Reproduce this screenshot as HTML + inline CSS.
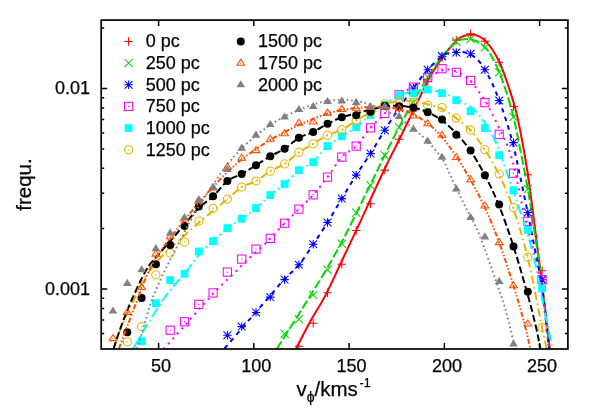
<!DOCTYPE html>
<html><head><meta charset="utf-8"><title>chart</title><style>html,body{margin:0;padding:0;background:#fff}body{width:598px;height:419px;overflow:hidden;font-family:"Liberation Sans",sans-serif}.t,.t text,.t tspan{font-family:"Liberation Sans",sans-serif}</style></head><body>
<svg width="598" height="419" viewBox="0 0 598 419" style="display:block">
<rect width="598" height="419" fill="#fff"/>
<defs><clipPath id="cp"><rect x="101.2" y="20.1" width="466.7" height="328.9"/></clipPath></defs>
<g clip-path="url(#cp)">
<path d="M295.9 349.0C298.2 344.5 305.0 331.1 310.0 322.0C315.0 312.9 320.8 304.4 326.1 294.1C331.4 283.9 336.5 272.2 342.0 260.5C347.5 248.8 354.0 235.2 359.2 224.1C364.4 213.0 368.4 204.0 373.0 194.0C377.6 184.0 382.6 173.1 387.0 164.0C391.4 154.9 394.9 148.4 399.3 139.5C403.7 130.6 408.6 120.4 413.4 110.5C418.2 100.6 424.3 87.5 428.2 80.0C432.1 72.5 434.2 69.9 437.0 65.5C439.8 61.1 442.0 57.7 445.2 53.6C448.4 49.5 453.4 43.7 456.4 40.8C459.4 37.9 460.5 37.2 463.0 36.2C465.5 35.2 468.8 34.6 471.5 34.6C474.2 34.6 476.7 35.2 479.0 36.3C481.3 37.4 483.3 38.9 485.5 41.0C487.7 43.1 489.7 45.5 492.0 49.0C494.3 52.5 496.9 56.5 499.4 62.0C501.9 67.5 504.3 74.0 507.0 82.0C509.7 90.0 513.2 100.3 515.7 110.0C518.2 119.7 520.0 129.3 522.0 140.0C524.0 150.7 526.1 163.2 527.8 174.0C529.5 184.8 530.3 192.0 532.0 205.0C533.7 218.0 535.8 234.5 538.0 252.0C540.2 269.5 543.3 293.9 545.3 310.0C547.3 326.1 549.0 342.1 549.8 348.5" fill="none" stroke="#ff0000" stroke-width="2.0"/>
<path d="M294.7 346.3H303.1M298.9 342.1V350.5" stroke="#ff0000" stroke-width="1.05" fill="none"/>
<path d="M309.0 323.2H317.4M313.2 319.0V327.4" stroke="#ff0000" stroke-width="1.05" fill="none"/>
<path d="M323.3 292.7H331.7M327.5 288.5V296.9" stroke="#ff0000" stroke-width="1.05" fill="none"/>
<path d="M337.6 264.2H346.0M341.8 260.0V268.4" stroke="#ff0000" stroke-width="1.05" fill="none"/>
<path d="M352.0 230.5H360.4M356.2 226.3V234.7" stroke="#ff0000" stroke-width="1.05" fill="none"/>
<path d="M366.3 203.8H374.7M370.5 199.6V208.0" stroke="#ff0000" stroke-width="1.05" fill="none"/>
<path d="M380.6 170.1H389.0M384.8 165.9V174.3" stroke="#ff0000" stroke-width="1.05" fill="none"/>
<path d="M394.9 139.2H403.3M399.1 135.0V143.4" stroke="#ff0000" stroke-width="1.05" fill="none"/>
<path d="M409.2 111.0H417.6M413.4 106.8V115.2" stroke="#ff0000" stroke-width="1.05" fill="none"/>
<path d="M423.5 81.5H431.9M427.7 77.3V85.7" stroke="#ff0000" stroke-width="1.05" fill="none"/>
<path d="M437.8 57.0H446.2M442.0 52.8V61.2" stroke="#ff0000" stroke-width="1.05" fill="none"/>
<path d="M452.1 40.1H460.5M456.3 35.9V44.3" stroke="#ff0000" stroke-width="1.05" fill="none"/>
<path d="M466.4 33.8H474.8M470.6 29.6V38.0" stroke="#ff0000" stroke-width="1.05" fill="none"/>
<path d="M480.7 41.3H489.1M484.9 37.1V45.5" stroke="#ff0000" stroke-width="1.05" fill="none"/>
<path d="M495.0 62.2H503.4M499.2 58.0V66.4" stroke="#ff0000" stroke-width="1.05" fill="none"/>
<path d="M509.3 106.5H517.7M513.5 102.3V110.7" stroke="#ff0000" stroke-width="1.05" fill="none"/>
<path d="M523.6 174.7H532.0M527.8 170.5V178.9" stroke="#ff0000" stroke-width="1.05" fill="none"/>
<path d="M537.9 270.7H546.3M542.1 266.5V274.9" stroke="#ff0000" stroke-width="1.05" fill="none"/>
<path d="M276.7 349.0C280.4 343.2 292.8 323.7 298.9 314.0C305.0 304.3 308.4 298.8 313.2 291.0C318.0 283.2 322.7 275.7 327.5 267.5C332.3 259.3 337.0 251.0 341.8 242.0C346.6 233.0 351.4 223.1 356.2 213.5C361.0 203.9 365.7 194.2 370.5 184.5C375.3 174.8 380.0 164.8 384.8 155.2C389.6 145.6 394.3 136.2 399.1 127.2C403.9 118.2 408.6 109.8 413.4 101.5C418.2 93.2 422.9 85.0 427.7 77.5C432.5 70.0 437.2 62.4 442.0 56.5C446.8 50.6 453.0 45.1 456.3 42.3C459.6 39.5 460.1 40.1 462.0 39.6C463.9 39.1 465.7 38.8 468.0 39.0C470.3 39.2 473.2 39.6 476.0 41.0C478.8 42.4 482.2 44.6 484.9 47.3C487.6 50.0 489.6 52.9 492.0 57.0C494.4 61.1 496.9 66.5 499.2 72.2C501.5 77.9 503.6 83.5 506.0 91.0C508.4 98.5 511.2 107.5 513.5 117.0C515.8 126.5 517.6 136.0 520.0 148.0C522.4 160.0 525.3 174.5 527.8 189.0C530.3 203.5 532.6 219.0 535.0 235.0C537.4 251.0 539.7 266.1 542.1 285.0C544.5 303.9 548.1 337.9 549.3 348.5" fill="none" stroke="#00d800" stroke-width="2.0" stroke-dasharray="9 3"/>
<path d="M280.5 329.7L288.7 337.9M280.5 337.9L288.7 329.7" stroke="#00d800" stroke-width="1.05" fill="none"/>
<path d="M294.8 315.1L303.0 323.3M294.8 323.3L303.0 315.1" stroke="#00d800" stroke-width="1.05" fill="none"/>
<path d="M309.1 290.8L317.3 299.0M309.1 299.0L317.3 290.8" stroke="#00d800" stroke-width="1.05" fill="none"/>
<path d="M323.4 265.7L331.6 273.9M323.4 273.9L331.6 265.7" stroke="#00d800" stroke-width="1.05" fill="none"/>
<path d="M337.7 239.6L345.9 247.8M337.7 247.8L345.9 239.6" stroke="#00d800" stroke-width="1.05" fill="none"/>
<path d="M352.1 208.7L360.3 216.9M352.1 216.9L360.3 208.7" stroke="#00d800" stroke-width="1.05" fill="none"/>
<path d="M366.4 181.1L374.6 189.3M366.4 189.3L374.6 181.1" stroke="#00d800" stroke-width="1.05" fill="none"/>
<path d="M380.7 151.1L388.9 159.3M380.7 159.3L388.9 151.1" stroke="#00d800" stroke-width="1.05" fill="none"/>
<path d="M395.0 123.1L403.2 131.3M395.0 131.3L403.2 123.1" stroke="#00d800" stroke-width="1.05" fill="none"/>
<path d="M409.3 98.0L417.5 106.2M409.3 106.2L417.5 98.0" stroke="#00d800" stroke-width="1.05" fill="none"/>
<path d="M423.6 72.8L431.8 81.0M423.6 81.0L431.8 72.8" stroke="#00d800" stroke-width="1.05" fill="none"/>
<path d="M437.9 51.9L446.1 60.1M437.9 60.1L446.1 51.9" stroke="#00d800" stroke-width="1.05" fill="none"/>
<path d="M452.2 37.7L460.4 45.9M452.2 45.9L460.4 37.7" stroke="#00d800" stroke-width="1.05" fill="none"/>
<path d="M466.5 34.9L474.7 43.1M466.5 43.1L474.7 34.9" stroke="#00d800" stroke-width="1.05" fill="none"/>
<path d="M480.8 43.2L489.0 51.4M480.8 51.4L489.0 43.2" stroke="#00d800" stroke-width="1.05" fill="none"/>
<path d="M495.1 68.1L503.3 76.3M495.1 76.3L503.3 68.1" stroke="#00d800" stroke-width="1.05" fill="none"/>
<path d="M509.4 112.9L517.6 121.1M509.4 121.1L517.6 112.9" stroke="#00d800" stroke-width="1.05" fill="none"/>
<path d="M523.7 184.9L531.9 193.1M523.7 193.1L531.9 184.9" stroke="#00d800" stroke-width="1.05" fill="none"/>
<path d="M538.0 275.6L546.2 283.8M538.0 283.8L546.2 275.6" stroke="#00d800" stroke-width="1.05" fill="none"/>
<path d="M224.5 348.5C227.4 345.2 236.4 334.7 241.7 328.6C246.9 322.5 251.2 317.5 256.0 312.0C260.8 306.5 265.5 301.0 270.3 295.5C275.1 290.0 279.8 284.1 284.6 279.0C289.4 273.9 294.2 270.6 298.9 264.8C303.7 259.0 308.5 251.4 313.2 244.3C318.0 237.2 322.8 230.1 327.5 222.5C332.3 214.9 337.1 206.5 341.8 198.6C346.6 190.7 351.4 182.6 356.2 175.1C360.9 167.6 365.7 161.1 370.5 153.6C375.2 146.1 380.0 137.8 384.8 130.2C389.5 122.6 394.3 115.1 399.1 108.1C403.8 101.1 408.6 94.4 413.4 88.0C418.1 81.6 422.9 75.1 427.7 69.8C432.4 64.5 438.4 59.1 442.0 56.3C445.5 53.5 446.6 53.9 449.0 53.2C451.4 52.5 453.8 52.1 456.3 52.0C458.8 51.9 461.6 51.9 464.0 52.3C466.4 52.7 468.3 53.2 470.6 54.5C472.9 55.8 475.6 57.5 478.0 60.0C480.4 62.5 482.6 66.0 484.9 69.8C487.2 73.6 489.6 77.9 492.0 83.0C494.4 88.1 496.9 94.3 499.2 100.5C501.5 106.7 503.6 112.4 506.0 120.0C508.4 127.6 511.2 136.7 513.5 146.0C515.8 155.3 517.6 164.8 520.0 176.0C522.4 187.2 525.3 200.7 527.8 213.0C530.3 225.3 532.6 237.5 535.0 250.0C537.4 262.5 539.8 271.6 542.1 288.0C544.4 304.4 547.9 338.4 549.0 348.5" fill="none" stroke="#0000ff" stroke-width="2.0" stroke-dasharray="4.5 4.5"/>
<path d="M223.2 335.2H231.6M227.4 331.0V339.4M223.5 331.3L231.3 339.1M223.5 339.1L231.3 331.3" stroke="#0000ff" stroke-width="1.05" fill="none"/>
<path d="M237.5 326.6H245.9M241.7 322.4V330.8M237.8 322.7L245.6 330.5M237.8 330.5L245.6 322.7" stroke="#0000ff" stroke-width="1.05" fill="none"/>
<path d="M251.8 312.4H260.2M256.0 308.2V316.6M252.1 308.5L259.9 316.3M252.1 316.3L259.9 308.5" stroke="#0000ff" stroke-width="1.05" fill="none"/>
<path d="M266.1 297.1H274.5M270.3 292.9V301.3M266.4 293.2L274.2 301.0M266.4 301.0L274.2 293.2" stroke="#0000ff" stroke-width="1.05" fill="none"/>
<path d="M280.4 279.6H288.8M284.6 275.4V283.8M280.7 275.7L288.5 283.5M280.7 283.5L288.5 275.7" stroke="#0000ff" stroke-width="1.05" fill="none"/>
<path d="M294.7 264.8H303.1M298.9 260.6V269.0M295.0 260.9L302.8 268.7M295.0 268.7L302.8 260.9" stroke="#0000ff" stroke-width="1.05" fill="none"/>
<path d="M309.0 244.3H317.4M313.2 240.1V248.5M309.3 240.4L317.1 248.2M309.3 248.2L317.1 240.4" stroke="#0000ff" stroke-width="1.05" fill="none"/>
<path d="M323.3 222.5H331.7M327.5 218.3V226.7M323.6 218.6L331.4 226.4M323.6 226.4L331.4 218.6" stroke="#0000ff" stroke-width="1.05" fill="none"/>
<path d="M337.6 198.6H346.0M341.8 194.4V202.8M337.9 194.7L345.7 202.5M337.9 202.5L345.7 194.7" stroke="#0000ff" stroke-width="1.05" fill="none"/>
<path d="M352.0 175.1H360.4M356.2 170.9V179.3M352.3 171.2L360.1 179.0M352.3 179.0L360.1 171.2" stroke="#0000ff" stroke-width="1.05" fill="none"/>
<path d="M366.3 153.6H374.7M370.5 149.4V157.8M366.6 149.7L374.4 157.5M366.6 157.5L374.4 149.7" stroke="#0000ff" stroke-width="1.05" fill="none"/>
<path d="M380.6 130.2H389.0M384.8 126.0V134.4M380.9 126.3L388.7 134.1M380.9 134.1L388.7 126.3" stroke="#0000ff" stroke-width="1.05" fill="none"/>
<path d="M394.9 108.1H403.3M399.1 103.9V112.3M395.2 104.2L403.0 112.0M395.2 112.0L403.0 104.2" stroke="#0000ff" stroke-width="1.05" fill="none"/>
<path d="M409.2 88.0H417.6M413.4 83.8V92.2M409.5 84.1L417.3 91.9M409.5 91.9L417.3 84.1" stroke="#0000ff" stroke-width="1.05" fill="none"/>
<path d="M423.5 69.8H431.9M427.7 65.6V74.0M423.8 65.9L431.6 73.7M423.8 73.7L431.6 65.9" stroke="#0000ff" stroke-width="1.05" fill="none"/>
<path d="M437.8 56.3H446.2M442.0 52.1V60.5M438.1 52.4L445.9 60.2M438.1 60.2L445.9 52.4" stroke="#0000ff" stroke-width="1.05" fill="none"/>
<path d="M452.1 52.5H460.5M456.3 48.3V56.7M452.4 48.6L460.2 56.4M452.4 56.4L460.2 48.6" stroke="#0000ff" stroke-width="1.05" fill="none"/>
<path d="M466.4 53.7H474.8M470.6 49.5V57.9M466.7 49.8L474.5 57.6M466.7 57.6L474.5 49.8" stroke="#0000ff" stroke-width="1.05" fill="none"/>
<path d="M480.7 69.8H489.1M484.9 65.6V74.0M481.0 65.9L488.8 73.7M481.0 73.7L488.8 65.9" stroke="#0000ff" stroke-width="1.05" fill="none"/>
<path d="M495.0 100.5H503.4M499.2 96.3V104.7M495.3 96.6L503.1 104.4M495.3 104.4L503.1 96.6" stroke="#0000ff" stroke-width="1.05" fill="none"/>
<path d="M509.3 142.6H517.7M513.5 138.4V146.8M509.6 138.7L517.4 146.5M509.6 146.5L517.4 138.7" stroke="#0000ff" stroke-width="1.05" fill="none"/>
<path d="M523.6 212.4H532.0M527.8 208.2V216.6M523.9 208.5L531.7 216.3M523.9 216.3L531.7 208.5" stroke="#0000ff" stroke-width="1.05" fill="none"/>
<path d="M537.9 279.7H546.3M542.1 275.5V283.9M538.2 275.8L546.0 283.6M538.2 283.6L546.0 275.8" stroke="#0000ff" stroke-width="1.05" fill="none"/>
<path d="M163.8 349.0C167.2 345.1 177.8 333.3 184.5 325.8C191.2 318.3 198.1 310.3 204.0 303.8C209.9 297.3 215.1 291.7 220.1 286.6C225.1 281.5 229.4 277.7 234.1 273.1C238.8 268.5 243.5 263.5 248.2 259.1C252.8 254.7 258.3 249.9 262.0 246.5C265.7 243.1 266.6 242.3 270.3 238.4C274.1 234.5 279.9 228.1 284.6 223.2C289.4 218.3 294.2 213.8 298.9 209.1C303.7 204.4 308.5 200.1 313.2 194.8C318.0 189.5 322.8 183.4 327.5 177.1C332.3 170.8 337.1 162.3 341.8 157.1C346.6 151.9 351.4 151.0 356.2 146.1C360.9 141.2 365.7 133.2 370.5 127.8C375.2 122.3 380.0 118.9 384.8 113.4C389.5 107.9 394.3 99.2 399.1 94.8C403.8 90.4 408.6 90.0 413.4 87.2C418.1 84.4 422.9 80.5 427.7 77.7C432.4 74.9 438.4 71.9 442.0 70.5C445.6 69.1 446.6 69.3 449.0 69.5C451.4 69.7 454.0 70.6 456.3 71.5C458.6 72.4 460.6 73.4 463.0 75.0C465.4 76.6 468.1 78.4 470.6 81.0C473.1 83.6 475.5 87.1 478.0 90.5C480.5 93.9 483.2 97.7 485.5 101.5C487.8 105.3 489.5 108.6 492.0 113.5C494.5 118.4 497.8 125.3 500.5 131.0C503.2 136.7 505.8 140.9 508.2 147.6C510.6 154.3 512.5 160.6 515.0 171.0C517.5 181.4 520.7 199.3 523.2 210.3C525.7 221.3 527.9 228.4 530.0 237.0C532.1 245.6 533.9 252.3 536.0 262.0C538.1 271.7 540.4 280.5 542.5 295.0C544.6 309.5 547.8 340.0 548.8 349.0" fill="none" stroke="#ff00ff" stroke-width="2.0" stroke-dasharray="2 4.6"/>
<rect x="166.1" y="326.1" width="8.2" height="8.2" stroke="#ff00ff" stroke-width="1.05" fill="none"/><circle cx="170.2" cy="330.2" r="0.7" fill="#ff00ff"/>
<rect x="180.4" y="317.7" width="8.2" height="8.2" stroke="#ff00ff" stroke-width="1.05" fill="none"/><circle cx="184.5" cy="321.8" r="0.7" fill="#ff00ff"/>
<rect x="194.7" y="300.3" width="8.2" height="8.2" stroke="#ff00ff" stroke-width="1.05" fill="none"/><circle cx="198.8" cy="304.4" r="0.7" fill="#ff00ff"/>
<rect x="209.0" y="288.8" width="8.2" height="8.2" stroke="#ff00ff" stroke-width="1.05" fill="none"/><circle cx="213.1" cy="292.9" r="0.7" fill="#ff00ff"/>
<rect x="223.3" y="268.0" width="8.2" height="8.2" stroke="#ff00ff" stroke-width="1.05" fill="none"/><circle cx="227.4" cy="272.1" r="0.7" fill="#ff00ff"/>
<rect x="237.6" y="255.0" width="8.2" height="8.2" stroke="#ff00ff" stroke-width="1.05" fill="none"/><circle cx="241.7" cy="259.1" r="0.7" fill="#ff00ff"/>
<rect x="251.9" y="245.0" width="8.2" height="8.2" stroke="#ff00ff" stroke-width="1.05" fill="none"/><circle cx="256.0" cy="249.1" r="0.7" fill="#ff00ff"/>
<rect x="266.2" y="234.3" width="8.2" height="8.2" stroke="#ff00ff" stroke-width="1.05" fill="none"/><circle cx="270.3" cy="238.4" r="0.7" fill="#ff00ff"/>
<rect x="280.5" y="219.1" width="8.2" height="8.2" stroke="#ff00ff" stroke-width="1.05" fill="none"/><circle cx="284.6" cy="223.2" r="0.7" fill="#ff00ff"/>
<rect x="294.8" y="205.0" width="8.2" height="8.2" stroke="#ff00ff" stroke-width="1.05" fill="none"/><circle cx="298.9" cy="209.1" r="0.7" fill="#ff00ff"/>
<rect x="309.1" y="190.7" width="8.2" height="8.2" stroke="#ff00ff" stroke-width="1.05" fill="none"/><circle cx="313.2" cy="194.8" r="0.7" fill="#ff00ff"/>
<rect x="323.4" y="173.0" width="8.2" height="8.2" stroke="#ff00ff" stroke-width="1.05" fill="none"/><circle cx="327.5" cy="177.1" r="0.7" fill="#ff00ff"/>
<rect x="337.7" y="153.0" width="8.2" height="8.2" stroke="#ff00ff" stroke-width="1.05" fill="none"/><circle cx="341.8" cy="157.1" r="0.7" fill="#ff00ff"/>
<rect x="352.1" y="142.0" width="8.2" height="8.2" stroke="#ff00ff" stroke-width="1.05" fill="none"/><circle cx="356.2" cy="146.1" r="0.7" fill="#ff00ff"/>
<rect x="366.4" y="123.7" width="8.2" height="8.2" stroke="#ff00ff" stroke-width="1.05" fill="none"/><circle cx="370.5" cy="127.8" r="0.7" fill="#ff00ff"/>
<rect x="380.7" y="109.3" width="8.2" height="8.2" stroke="#ff00ff" stroke-width="1.05" fill="none"/><circle cx="384.8" cy="113.4" r="0.7" fill="#ff00ff"/>
<rect x="395.0" y="90.7" width="8.2" height="8.2" stroke="#ff00ff" stroke-width="1.05" fill="none"/><circle cx="399.1" cy="94.8" r="0.7" fill="#ff00ff"/>
<rect x="409.3" y="83.1" width="8.2" height="8.2" stroke="#ff00ff" stroke-width="1.05" fill="none"/><circle cx="413.4" cy="87.2" r="0.7" fill="#ff00ff"/>
<rect x="423.6" y="73.6" width="8.2" height="8.2" stroke="#ff00ff" stroke-width="1.05" fill="none"/><circle cx="427.7" cy="77.7" r="0.7" fill="#ff00ff"/>
<rect x="437.9" y="64.6" width="8.2" height="8.2" stroke="#ff00ff" stroke-width="1.05" fill="none"/><circle cx="442.0" cy="68.7" r="0.7" fill="#ff00ff"/>
<rect x="452.2" y="68.2" width="8.2" height="8.2" stroke="#ff00ff" stroke-width="1.05" fill="none"/><circle cx="456.3" cy="72.3" r="0.7" fill="#ff00ff"/>
<rect x="466.5" y="76.4" width="8.2" height="8.2" stroke="#ff00ff" stroke-width="1.05" fill="none"/><circle cx="470.6" cy="80.5" r="0.7" fill="#ff00ff"/>
<rect x="480.8" y="98.5" width="8.2" height="8.2" stroke="#ff00ff" stroke-width="1.05" fill="none"/><circle cx="484.9" cy="102.6" r="0.7" fill="#ff00ff"/>
<rect x="495.1" y="130.2" width="8.2" height="8.2" stroke="#ff00ff" stroke-width="1.05" fill="none"/><circle cx="499.2" cy="134.3" r="0.7" fill="#ff00ff"/>
<rect x="509.4" y="169.1" width="8.2" height="8.2" stroke="#ff00ff" stroke-width="1.05" fill="none"/><circle cx="513.5" cy="173.2" r="0.7" fill="#ff00ff"/>
<rect x="523.7" y="217.2" width="8.2" height="8.2" stroke="#ff00ff" stroke-width="1.05" fill="none"/><circle cx="527.8" cy="221.3" r="0.7" fill="#ff00ff"/>
<rect x="538.0" y="275.6" width="8.2" height="8.2" stroke="#ff00ff" stroke-width="1.05" fill="none"/><circle cx="542.1" cy="279.7" r="0.7" fill="#ff00ff"/>
<path d="M133.1 349.0C134.5 346.5 137.8 340.3 141.6 334.0C145.4 327.7 151.8 317.4 155.9 311.0C160.0 304.6 163.0 299.7 166.2 295.3C169.4 290.9 172.0 288.0 175.0 284.5C178.0 281.0 180.8 278.6 184.3 274.2C187.9 269.8 192.7 262.6 196.3 258.1C199.9 253.7 203.2 250.3 206.0 247.5C208.8 244.7 209.6 244.3 213.1 241.1C216.7 237.9 222.7 231.9 227.4 228.2C232.2 224.5 237.0 222.2 241.7 218.8C246.5 215.5 251.3 212.1 256.0 208.1C260.8 204.1 265.6 199.1 270.3 195.1C275.1 191.1 279.9 188.2 284.6 184.0C289.4 179.8 294.2 173.8 298.9 170.2C303.7 166.5 308.5 166.1 313.2 162.1C318.0 158.1 322.8 150.3 327.5 146.0C332.3 141.7 337.1 139.3 341.8 136.2C346.6 133.1 351.4 130.7 356.2 127.2C360.9 123.7 365.7 118.9 370.5 115.2C375.2 111.5 380.0 108.3 384.8 105.0C389.5 101.7 394.3 97.6 399.1 95.4C403.8 93.2 408.6 92.4 413.4 91.6C418.2 90.8 422.9 90.3 427.7 90.5C432.5 90.7 437.0 91.0 442.0 92.5C447.0 94.0 452.1 96.6 457.5 99.5C462.9 102.4 469.4 105.6 474.3 110.0C479.2 114.4 483.0 119.7 487.0 126.0C491.0 132.3 494.5 138.6 498.2 147.6C501.9 156.6 505.6 169.3 509.4 180.2C513.1 191.1 516.7 200.5 520.7 213.0C524.7 225.5 529.4 239.0 533.3 255.2C537.2 271.4 541.3 295.5 544.3 310.0C547.3 324.5 549.9 335.5 551.3 342.0C552.7 348.5 552.4 347.8 552.6 349.0" fill="none" stroke="#00ffff" stroke-width="2.0" stroke-dasharray="10 3.5 1.6 3.5"/>
<rect x="137.7" y="337.3" width="7.8" height="7.8" fill="#00ffff"/>
<rect x="152.0" y="299.2" width="7.8" height="7.8" fill="#00ffff"/>
<rect x="166.3" y="276.2" width="7.8" height="7.8" fill="#00ffff"/>
<rect x="180.6" y="269.9" width="7.8" height="7.8" fill="#00ffff"/>
<rect x="194.9" y="247.6" width="7.8" height="7.8" fill="#00ffff"/>
<rect x="209.2" y="237.2" width="7.8" height="7.8" fill="#00ffff"/>
<rect x="223.5" y="224.3" width="7.8" height="7.8" fill="#00ffff"/>
<rect x="237.8" y="214.9" width="7.8" height="7.8" fill="#00ffff"/>
<rect x="252.1" y="204.2" width="7.8" height="7.8" fill="#00ffff"/>
<rect x="266.4" y="191.2" width="7.8" height="7.8" fill="#00ffff"/>
<rect x="280.7" y="180.1" width="7.8" height="7.8" fill="#00ffff"/>
<rect x="295.0" y="166.3" width="7.8" height="7.8" fill="#00ffff"/>
<rect x="309.3" y="158.2" width="7.8" height="7.8" fill="#00ffff"/>
<rect x="323.6" y="142.1" width="7.8" height="7.8" fill="#00ffff"/>
<rect x="337.9" y="132.3" width="7.8" height="7.8" fill="#00ffff"/>
<rect x="352.3" y="123.3" width="7.8" height="7.8" fill="#00ffff"/>
<rect x="366.6" y="111.3" width="7.8" height="7.8" fill="#00ffff"/>
<rect x="380.9" y="101.1" width="7.8" height="7.8" fill="#00ffff"/>
<rect x="395.2" y="91.5" width="7.8" height="7.8" fill="#00ffff"/>
<rect x="409.5" y="89.5" width="7.8" height="7.8" fill="#00ffff"/>
<rect x="423.8" y="85.7" width="7.8" height="7.8" fill="#00ffff"/>
<rect x="438.1" y="89.2" width="7.8" height="7.8" fill="#00ffff"/>
<rect x="452.4" y="96.3" width="7.8" height="7.8" fill="#00ffff"/>
<rect x="466.7" y="107.3" width="7.8" height="7.8" fill="#00ffff"/>
<rect x="481.0" y="124.2" width="7.8" height="7.8" fill="#00ffff"/>
<rect x="495.3" y="151.3" width="7.8" height="7.8" fill="#00ffff"/>
<rect x="509.6" y="186.4" width="7.8" height="7.8" fill="#00ffff"/>
<rect x="523.9" y="226.1" width="7.8" height="7.8" fill="#00ffff"/>
<rect x="538.2" y="284.6" width="7.8" height="7.8" fill="#00ffff"/>
<path d="M113.8 349.0C114.4 347.0 116.2 340.8 117.5 337.0C118.8 333.2 119.9 330.4 121.6 326.4C123.3 322.4 125.5 317.3 127.5 313.0C129.5 308.7 130.9 306.1 133.6 300.6C136.3 295.1 140.4 285.9 143.6 280.2C146.8 274.5 149.6 270.9 153.0 266.5C156.4 262.1 159.8 258.5 164.2 254.1C168.6 249.7 173.8 245.0 179.3 240.0C184.8 235.0 192.5 228.2 197.3 224.0C202.1 219.8 203.0 219.2 208.0 215.0C213.0 210.8 221.8 203.8 227.4 199.1C233.0 194.4 237.0 190.1 241.7 187.1C246.5 184.1 251.3 183.7 256.0 181.0C260.8 178.3 265.6 174.0 270.3 171.2C275.1 168.3 279.9 167.1 284.6 163.9C289.4 160.8 294.2 155.7 298.9 152.3C303.7 149.0 308.5 146.7 313.2 143.8C318.0 141.0 322.8 137.5 327.5 135.2C332.3 132.9 337.1 132.2 341.8 129.8C346.6 127.4 351.4 123.5 356.2 120.6C360.9 117.6 365.7 114.8 370.5 112.1C375.2 109.4 380.0 106.3 384.8 104.5C389.6 102.7 394.3 101.5 399.1 101.0C403.9 100.5 408.6 101.0 413.4 101.5C418.2 102.0 422.9 103.0 427.7 104.2C432.5 105.5 437.2 106.7 442.0 109.0C446.8 111.3 451.5 114.5 456.3 118.1C461.1 121.7 465.8 125.2 470.6 130.5C475.4 135.8 480.1 142.3 484.9 149.7C489.7 157.1 494.4 165.1 499.2 175.0C504.0 184.9 508.7 195.2 513.5 209.0C518.3 222.8 523.0 238.2 527.8 258.0C532.6 277.8 539.0 312.6 542.1 327.7C545.2 342.8 545.8 345.0 546.5 348.5" fill="none" stroke="#e6b400" stroke-width="2.0" stroke-dasharray="8 3.5 1.6 3.5"/>
<circle cx="127.3" cy="341.8" r="4.1" stroke="#e6b400" stroke-width="1.05" fill="none"/><circle cx="127.3" cy="341.8" r="0.7" fill="#e6b400"/>
<circle cx="141.6" cy="326.6" r="4.1" stroke="#e6b400" stroke-width="1.05" fill="none"/><circle cx="141.6" cy="326.6" r="0.7" fill="#e6b400"/>
<circle cx="155.9" cy="274.9" r="4.1" stroke="#e6b400" stroke-width="1.05" fill="none"/><circle cx="155.9" cy="274.9" r="0.7" fill="#e6b400"/>
<circle cx="170.2" cy="253.1" r="4.1" stroke="#e6b400" stroke-width="1.05" fill="none"/><circle cx="170.2" cy="253.1" r="0.7" fill="#e6b400"/>
<circle cx="184.5" cy="242.1" r="4.1" stroke="#e6b400" stroke-width="1.05" fill="none"/><circle cx="184.5" cy="242.1" r="0.7" fill="#e6b400"/>
<circle cx="198.8" cy="221.1" r="4.1" stroke="#e6b400" stroke-width="1.05" fill="none"/><circle cx="198.8" cy="221.1" r="0.7" fill="#e6b400"/>
<circle cx="213.1" cy="208.3" r="4.1" stroke="#e6b400" stroke-width="1.05" fill="none"/><circle cx="213.1" cy="208.3" r="0.7" fill="#e6b400"/>
<circle cx="227.4" cy="199.1" r="4.1" stroke="#e6b400" stroke-width="1.05" fill="none"/><circle cx="227.4" cy="199.1" r="0.7" fill="#e6b400"/>
<circle cx="241.7" cy="187.1" r="4.1" stroke="#e6b400" stroke-width="1.05" fill="none"/><circle cx="241.7" cy="187.1" r="0.7" fill="#e6b400"/>
<circle cx="256.0" cy="181.0" r="4.1" stroke="#e6b400" stroke-width="1.05" fill="none"/><circle cx="256.0" cy="181.0" r="0.7" fill="#e6b400"/>
<circle cx="270.3" cy="171.2" r="4.1" stroke="#e6b400" stroke-width="1.05" fill="none"/><circle cx="270.3" cy="171.2" r="0.7" fill="#e6b400"/>
<circle cx="284.6" cy="163.9" r="4.1" stroke="#e6b400" stroke-width="1.05" fill="none"/><circle cx="284.6" cy="163.9" r="0.7" fill="#e6b400"/>
<circle cx="298.9" cy="152.3" r="4.1" stroke="#e6b400" stroke-width="1.05" fill="none"/><circle cx="298.9" cy="152.3" r="0.7" fill="#e6b400"/>
<circle cx="313.2" cy="143.8" r="4.1" stroke="#e6b400" stroke-width="1.05" fill="none"/><circle cx="313.2" cy="143.8" r="0.7" fill="#e6b400"/>
<circle cx="327.5" cy="135.2" r="4.1" stroke="#e6b400" stroke-width="1.05" fill="none"/><circle cx="327.5" cy="135.2" r="0.7" fill="#e6b400"/>
<circle cx="341.8" cy="129.8" r="4.1" stroke="#e6b400" stroke-width="1.05" fill="none"/><circle cx="341.8" cy="129.8" r="0.7" fill="#e6b400"/>
<circle cx="356.2" cy="120.6" r="4.1" stroke="#e6b400" stroke-width="1.05" fill="none"/><circle cx="356.2" cy="120.6" r="0.7" fill="#e6b400"/>
<circle cx="370.5" cy="112.1" r="4.1" stroke="#e6b400" stroke-width="1.05" fill="none"/><circle cx="370.5" cy="112.1" r="0.7" fill="#e6b400"/>
<circle cx="384.8" cy="103.8" r="4.1" stroke="#e6b400" stroke-width="1.05" fill="none"/><circle cx="384.8" cy="103.8" r="0.7" fill="#e6b400"/>
<circle cx="399.1" cy="100.6" r="4.1" stroke="#e6b400" stroke-width="1.05" fill="none"/><circle cx="399.1" cy="100.6" r="0.7" fill="#e6b400"/>
<circle cx="413.4" cy="102.3" r="4.1" stroke="#e6b400" stroke-width="1.05" fill="none"/><circle cx="413.4" cy="102.3" r="0.7" fill="#e6b400"/>
<circle cx="427.7" cy="105.2" r="4.1" stroke="#e6b400" stroke-width="1.05" fill="none"/><circle cx="427.7" cy="105.2" r="0.7" fill="#e6b400"/>
<circle cx="442.0" cy="107.6" r="4.1" stroke="#e6b400" stroke-width="1.05" fill="none"/><circle cx="442.0" cy="107.6" r="0.7" fill="#e6b400"/>
<circle cx="456.3" cy="118.1" r="4.1" stroke="#e6b400" stroke-width="1.05" fill="none"/><circle cx="456.3" cy="118.1" r="0.7" fill="#e6b400"/>
<circle cx="470.6" cy="130.1" r="4.1" stroke="#e6b400" stroke-width="1.05" fill="none"/><circle cx="470.6" cy="130.1" r="0.7" fill="#e6b400"/>
<circle cx="484.9" cy="149.7" r="4.1" stroke="#e6b400" stroke-width="1.05" fill="none"/><circle cx="484.9" cy="149.7" r="0.7" fill="#e6b400"/>
<circle cx="499.2" cy="174.0" r="4.1" stroke="#e6b400" stroke-width="1.05" fill="none"/><circle cx="499.2" cy="174.0" r="0.7" fill="#e6b400"/>
<circle cx="513.5" cy="207.6" r="4.1" stroke="#e6b400" stroke-width="1.05" fill="none"/><circle cx="513.5" cy="207.6" r="0.7" fill="#e6b400"/>
<circle cx="527.8" cy="257.2" r="4.1" stroke="#e6b400" stroke-width="1.05" fill="none"/><circle cx="527.8" cy="257.2" r="0.7" fill="#e6b400"/>
<circle cx="542.1" cy="327.7" r="4.1" stroke="#e6b400" stroke-width="1.05" fill="none"/><circle cx="542.1" cy="327.7" r="0.7" fill="#e6b400"/>
<path d="M113.6 348.5C115.0 344.4 118.9 332.2 122.0 324.0C125.1 315.8 128.1 308.0 132.1 299.0C136.1 290.0 142.2 276.9 146.2 270.0C150.2 263.1 151.9 262.3 155.9 257.5C159.9 252.7 165.4 246.5 170.2 241.0C175.0 235.5 179.7 230.0 184.5 224.5C189.3 219.0 194.0 212.7 198.8 208.0C203.6 203.3 208.4 200.8 213.1 196.3C217.9 191.8 222.7 184.7 227.4 181.0C232.2 177.3 237.0 176.5 241.7 173.9C246.5 171.3 251.3 168.2 256.0 165.3C260.8 162.4 265.6 158.9 270.3 156.2C275.1 153.4 279.9 151.9 284.6 148.8C289.4 145.7 294.2 140.6 298.9 137.8C303.7 135.0 308.5 134.3 313.2 132.0C318.0 129.7 322.8 126.3 327.5 123.8C332.3 121.3 337.1 118.9 341.8 117.2C346.6 115.5 351.4 114.8 356.2 113.5C361.0 112.2 365.7 110.7 370.5 109.5C375.3 108.3 380.0 107.1 384.8 106.5C389.6 105.9 394.3 105.6 399.1 105.8C403.9 106.0 408.6 106.6 413.4 107.7C418.2 108.8 422.9 110.1 427.7 112.2C432.5 114.3 437.2 117.0 442.0 120.5C446.8 124.0 451.5 128.4 456.3 133.5C461.1 138.6 465.8 144.1 470.6 151.0C475.4 157.9 480.1 166.0 484.9 175.2C489.7 184.4 494.4 194.1 499.2 206.0C504.0 217.9 508.7 231.6 513.5 246.4C518.3 261.2 524.0 281.6 527.8 295.0C531.5 308.4 533.9 318.1 536.0 327.0C538.1 335.9 539.6 344.9 540.3 348.5" fill="none" stroke="#000000" stroke-width="2.0" stroke-dasharray="7 3"/>
<circle cx="127.3" cy="332.2" r="4.0" fill="#000000"/>
<circle cx="141.6" cy="297.9" r="4.0" fill="#000000"/>
<circle cx="155.9" cy="264.2" r="4.0" fill="#000000"/>
<circle cx="170.2" cy="245.1" r="4.0" fill="#000000"/>
<circle cx="184.5" cy="226.0" r="4.0" fill="#000000"/>
<circle cx="198.8" cy="206.6" r="4.0" fill="#000000"/>
<circle cx="213.1" cy="196.3" r="4.0" fill="#000000"/>
<circle cx="227.4" cy="181.0" r="4.0" fill="#000000"/>
<circle cx="241.7" cy="173.9" r="4.0" fill="#000000"/>
<circle cx="256.0" cy="165.3" r="4.0" fill="#000000"/>
<circle cx="270.3" cy="156.2" r="4.0" fill="#000000"/>
<circle cx="284.6" cy="148.8" r="4.0" fill="#000000"/>
<circle cx="298.9" cy="137.8" r="4.0" fill="#000000"/>
<circle cx="313.2" cy="132.0" r="4.0" fill="#000000"/>
<circle cx="327.5" cy="123.8" r="4.0" fill="#000000"/>
<circle cx="341.8" cy="117.2" r="4.0" fill="#000000"/>
<circle cx="356.2" cy="115.2" r="4.0" fill="#000000"/>
<circle cx="370.5" cy="111.7" r="4.0" fill="#000000"/>
<circle cx="384.8" cy="105.7" r="4.0" fill="#000000"/>
<circle cx="399.1" cy="106.3" r="4.0" fill="#000000"/>
<circle cx="413.4" cy="107.7" r="4.0" fill="#000000"/>
<circle cx="427.7" cy="112.2" r="4.0" fill="#000000"/>
<circle cx="442.0" cy="119.6" r="4.0" fill="#000000"/>
<circle cx="456.3" cy="134.8" r="4.0" fill="#000000"/>
<circle cx="470.6" cy="150.6" r="4.0" fill="#000000"/>
<circle cx="484.9" cy="175.2" r="4.0" fill="#000000"/>
<circle cx="499.2" cy="204.5" r="4.0" fill="#000000"/>
<circle cx="513.5" cy="246.4" r="4.0" fill="#000000"/>
<circle cx="527.8" cy="291.7" r="4.0" fill="#000000"/>
<path d="M119.0 348.5C120.3 344.9 123.8 335.4 127.0 327.0C130.2 318.6 134.3 307.5 138.0 298.0C141.7 288.5 145.5 277.7 149.2 270.0C152.9 262.3 156.5 257.3 160.0 252.0C163.5 246.7 166.1 243.3 170.2 238.0C174.3 232.7 179.7 225.8 184.5 220.0C189.3 214.2 194.0 208.5 198.8 203.0C203.6 197.5 208.3 192.2 213.1 187.0C217.9 181.8 222.6 176.6 227.4 172.0C232.2 167.4 236.9 163.3 241.7 159.5C246.5 155.7 251.2 152.2 256.0 149.0C260.8 145.8 265.5 142.8 270.3 140.0C275.1 137.2 279.8 134.5 284.6 132.0C289.4 129.5 294.1 127.2 298.9 125.0C303.7 122.8 308.4 120.9 313.2 119.0C318.0 117.1 322.7 115.0 327.5 113.5C332.3 112.0 337.0 110.9 341.8 110.0C346.6 109.1 351.4 108.5 356.2 108.0C361.0 107.5 365.7 107.1 370.5 107.0C375.3 106.9 380.0 106.9 384.8 107.3C389.6 107.7 394.3 108.0 399.1 109.2C403.9 110.4 408.6 112.1 413.4 114.5C418.2 116.9 422.9 119.8 427.7 123.5C432.5 127.2 437.2 131.5 442.0 137.0C446.8 142.5 451.5 149.3 456.3 156.5C461.1 163.7 465.8 171.5 470.6 180.0C475.4 188.5 480.1 197.1 484.9 207.5C489.7 217.9 494.4 229.6 499.2 242.6C504.0 255.6 509.4 272.5 513.5 285.7C517.6 298.9 521.2 311.5 524.0 322.0C526.8 332.5 529.2 344.1 530.3 348.5" fill="none" stroke="#ff4d00" stroke-width="2.0" stroke-dasharray="5 2 1.5 2 1.5 2"/>
<path d="M113.0 334.6L116.9 340.6H109.1Z" stroke="#ff4d00" stroke-width="1.05" fill="none"/><circle cx="113.0" cy="338.6" r="0.7" fill="#ff4d00"/>
<path d="M127.3 308.5L131.2 314.5H123.4Z" stroke="#ff4d00" stroke-width="1.05" fill="none"/><circle cx="127.3" cy="312.5" r="0.7" fill="#ff4d00"/>
<path d="M141.6 283.5L145.5 289.5H137.7Z" stroke="#ff4d00" stroke-width="1.05" fill="none"/><circle cx="141.6" cy="287.5" r="0.7" fill="#ff4d00"/>
<path d="M155.9 250.1L159.8 256.1H152.0Z" stroke="#ff4d00" stroke-width="1.05" fill="none"/><circle cx="155.9" cy="254.1" r="0.7" fill="#ff4d00"/>
<path d="M170.2 232.7L174.1 238.7H166.3Z" stroke="#ff4d00" stroke-width="1.05" fill="none"/><circle cx="170.2" cy="236.7" r="0.7" fill="#ff4d00"/>
<path d="M184.5 215.0L188.4 221.0H180.6Z" stroke="#ff4d00" stroke-width="1.05" fill="none"/><circle cx="184.5" cy="219.0" r="0.7" fill="#ff4d00"/>
<path d="M198.8 197.0L202.7 203.0H194.9Z" stroke="#ff4d00" stroke-width="1.05" fill="none"/><circle cx="198.8" cy="201.0" r="0.7" fill="#ff4d00"/>
<path d="M213.1 184.0L217.0 190.0H209.2Z" stroke="#ff4d00" stroke-width="1.05" fill="none"/><circle cx="213.1" cy="188.0" r="0.7" fill="#ff4d00"/>
<path d="M227.4 163.3L231.3 169.3H223.5Z" stroke="#ff4d00" stroke-width="1.05" fill="none"/><circle cx="227.4" cy="167.3" r="0.7" fill="#ff4d00"/>
<path d="M241.7 154.2L245.6 160.2H237.8Z" stroke="#ff4d00" stroke-width="1.05" fill="none"/><circle cx="241.7" cy="158.2" r="0.7" fill="#ff4d00"/>
<path d="M256.0 146.6L259.9 152.6H252.1Z" stroke="#ff4d00" stroke-width="1.05" fill="none"/><circle cx="256.0" cy="150.6" r="0.7" fill="#ff4d00"/>
<path d="M270.3 135.2L274.2 141.2H266.4Z" stroke="#ff4d00" stroke-width="1.05" fill="none"/><circle cx="270.3" cy="139.2" r="0.7" fill="#ff4d00"/>
<path d="M284.6 129.7L288.5 135.7H280.7Z" stroke="#ff4d00" stroke-width="1.05" fill="none"/><circle cx="284.6" cy="133.7" r="0.7" fill="#ff4d00"/>
<path d="M298.9 119.1L302.8 125.1H295.0Z" stroke="#ff4d00" stroke-width="1.05" fill="none"/><circle cx="298.9" cy="123.1" r="0.7" fill="#ff4d00"/>
<path d="M313.2 118.0L317.1 124.0H309.3Z" stroke="#ff4d00" stroke-width="1.05" fill="none"/><circle cx="313.2" cy="122.0" r="0.7" fill="#ff4d00"/>
<path d="M327.5 109.1L331.4 115.1H323.6Z" stroke="#ff4d00" stroke-width="1.05" fill="none"/><circle cx="327.5" cy="113.1" r="0.7" fill="#ff4d00"/>
<path d="M341.8 105.4L345.7 111.4H337.9Z" stroke="#ff4d00" stroke-width="1.05" fill="none"/><circle cx="341.8" cy="109.4" r="0.7" fill="#ff4d00"/>
<path d="M356.2 104.2L360.1 110.2H352.3Z" stroke="#ff4d00" stroke-width="1.05" fill="none"/><circle cx="356.2" cy="108.2" r="0.7" fill="#ff4d00"/>
<path d="M370.5 103.5L374.4 109.5H366.6Z" stroke="#ff4d00" stroke-width="1.05" fill="none"/><circle cx="370.5" cy="107.5" r="0.7" fill="#ff4d00"/>
<path d="M384.8 103.0L388.7 109.0H380.9Z" stroke="#ff4d00" stroke-width="1.05" fill="none"/><circle cx="384.8" cy="107.0" r="0.7" fill="#ff4d00"/>
<path d="M399.1 104.6L403.0 110.6H395.2Z" stroke="#ff4d00" stroke-width="1.05" fill="none"/><circle cx="399.1" cy="108.6" r="0.7" fill="#ff4d00"/>
<path d="M413.4 112.0L417.3 118.0H409.5Z" stroke="#ff4d00" stroke-width="1.05" fill="none"/><circle cx="413.4" cy="116.0" r="0.7" fill="#ff4d00"/>
<path d="M427.7 119.7L431.6 125.7H423.8Z" stroke="#ff4d00" stroke-width="1.05" fill="none"/><circle cx="427.7" cy="123.7" r="0.7" fill="#ff4d00"/>
<path d="M442.0 131.2L445.9 137.2H438.1Z" stroke="#ff4d00" stroke-width="1.05" fill="none"/><circle cx="442.0" cy="135.2" r="0.7" fill="#ff4d00"/>
<path d="M456.3 153.5L460.2 159.5H452.4Z" stroke="#ff4d00" stroke-width="1.05" fill="none"/><circle cx="456.3" cy="157.5" r="0.7" fill="#ff4d00"/>
<path d="M470.6 175.7L474.5 181.7H466.7Z" stroke="#ff4d00" stroke-width="1.05" fill="none"/><circle cx="470.6" cy="179.7" r="0.7" fill="#ff4d00"/>
<path d="M484.9 202.0L488.8 208.0H481.0Z" stroke="#ff4d00" stroke-width="1.05" fill="none"/><circle cx="484.9" cy="206.0" r="0.7" fill="#ff4d00"/>
<path d="M499.2 238.6L503.1 244.6H495.3Z" stroke="#ff4d00" stroke-width="1.05" fill="none"/><circle cx="499.2" cy="242.6" r="0.7" fill="#ff4d00"/>
<path d="M513.5 281.7L517.4 287.7H509.6Z" stroke="#ff4d00" stroke-width="1.05" fill="none"/><circle cx="513.5" cy="285.7" r="0.7" fill="#ff4d00"/>
<path d="M527.8 320.0L531.7 326.0H523.9Z" stroke="#ff4d00" stroke-width="1.05" fill="none"/><circle cx="527.8" cy="324.0" r="0.7" fill="#ff4d00"/>
<path d="M137.1 348.5C138.2 344.8 141.5 334.2 144.0 326.0C146.5 317.8 148.7 308.3 152.2 299.0C155.7 289.7 160.9 279.0 165.2 270.0C169.5 261.0 173.8 253.2 178.0 245.0C182.2 236.8 186.1 228.5 190.3 221.0C194.5 213.5 198.8 206.7 203.0 200.0C207.2 193.3 211.3 186.9 215.4 181.0C219.5 175.1 223.0 169.9 227.4 164.5C231.8 159.1 236.9 153.3 241.7 148.5C246.5 143.7 251.2 139.4 256.0 135.5C260.8 131.6 265.5 128.2 270.3 125.0C275.1 121.8 279.8 119.0 284.6 116.5C289.4 114.0 294.1 112.0 298.9 110.0C303.7 108.0 308.4 106.0 313.2 104.5C318.0 103.0 322.7 101.8 327.5 101.0C332.3 100.2 337.0 99.6 341.8 99.6C346.6 99.6 351.4 100.2 356.2 101.0C361.0 101.8 365.7 103.0 370.5 104.5C375.3 106.0 380.0 107.8 384.8 110.0C389.6 112.2 394.3 114.9 399.1 118.0C403.9 121.1 408.6 124.6 413.4 128.5C418.2 132.4 422.9 136.5 427.7 141.5C432.5 146.5 438.4 153.2 442.0 158.5C445.6 163.8 446.9 168.1 449.3 173.0C451.7 177.9 453.7 182.5 456.3 188.0C458.9 193.5 461.2 198.2 465.1 206.0C469.0 213.8 474.3 222.7 479.4 235.1C484.5 247.5 491.3 267.7 495.7 280.2C500.1 292.7 502.4 298.5 505.7 310.0C508.9 321.5 513.6 342.5 515.2 349.0" fill="none" stroke="#808080" stroke-width="2.0" stroke-dasharray="1.6 2.9"/>
<path d="M113.0 306.5L117.4 313.6H108.6Z" fill="#808080"/>
<path d="M127.3 278.8L131.7 285.9H122.9Z" fill="#808080"/>
<path d="M141.6 265.2L146.0 272.3H137.2Z" fill="#808080"/>
<path d="M155.9 244.1L160.3 251.2H151.5Z" fill="#808080"/>
<path d="M170.2 228.4L174.6 235.5H165.8Z" fill="#808080"/>
<path d="M184.5 213.0L188.9 220.1H180.1Z" fill="#808080"/>
<path d="M198.8 195.2L203.2 202.3H194.4Z" fill="#808080"/>
<path d="M213.1 182.8L217.5 189.9H208.7Z" fill="#808080"/>
<path d="M227.4 164.9L231.8 172.0H223.0Z" fill="#808080"/>
<path d="M241.7 143.6L246.1 150.7H237.3Z" fill="#808080"/>
<path d="M256.0 130.6L260.4 137.7H251.6Z" fill="#808080"/>
<path d="M270.3 119.9L274.7 127.0H265.9Z" fill="#808080"/>
<path d="M284.6 112.5L289.0 119.6H280.2Z" fill="#808080"/>
<path d="M298.9 104.9L303.3 112.0H294.5Z" fill="#808080"/>
<path d="M313.2 101.9L317.6 109.0H308.8Z" fill="#808080"/>
<path d="M327.5 97.0L331.9 104.1H323.1Z" fill="#808080"/>
<path d="M341.8 96.4L346.2 103.5H337.4Z" fill="#808080"/>
<path d="M356.2 97.8L360.6 104.9H351.8Z" fill="#808080"/>
<path d="M370.5 102.2L374.9 109.3H366.1Z" fill="#808080"/>
<path d="M384.8 101.7L389.2 108.8H380.4Z" fill="#808080"/>
<path d="M399.1 111.9L403.5 119.0H394.7Z" fill="#808080"/>
<path d="M413.4 124.6L417.8 131.7H409.0Z" fill="#808080"/>
<path d="M427.7 136.6L432.1 143.7H423.3Z" fill="#808080"/>
<path d="M442.0 152.7L446.4 159.8H437.6Z" fill="#808080"/>
<path d="M456.3 184.4L460.7 191.5H451.9Z" fill="#808080"/>
<path d="M470.6 212.9L475.0 220.0H466.2Z" fill="#808080"/>
<path d="M484.9 232.3L489.3 239.4H480.5Z" fill="#808080"/>
<path d="M499.2 276.8L503.6 283.9H494.8Z" fill="#808080"/>
<path d="M513.5 339.4L517.9 346.5H509.1Z" fill="#808080"/>
</g>
<path d="M158.6 349.0v-6M158.6 20.1v6M253.8 349.0v-6M253.8 20.1v6M349.1 349.0v-6M349.1 20.1v6M444.4 349.0v-6M444.4 20.1v6M539.6 349.0v-6M539.6 20.1v6M101.2 333.5h3M567.9 333.5h-3M101.2 320.1h3M567.9 320.1h-3M101.2 308.4h3M567.9 308.4h-3M101.2 298.2h3M567.9 298.2h-3M101.2 228.6h3M567.9 228.6h-3M101.2 193.3h3M567.9 193.3h-3M101.2 168.3h3M567.9 168.3h-3M101.2 148.9h3M567.9 148.9h-3M101.2 133.0h3M567.9 133.0h-3M101.2 119.6h3M567.9 119.6h-3M101.2 107.9h3M567.9 107.9h-3M101.2 97.7h3M567.9 97.7h-3M101.2 28.1h3M567.9 28.1h-3M101.2 289.0h6M567.9 289.0h-6M101.2 88.5h6M567.9 88.5h-6" stroke="#000" stroke-width="1.5" fill="none"/>
<rect x="101.2" y="20.1" width="466.7" height="328.9" fill="none" stroke="#000" stroke-width="1.7"/>
<g class="t" fill="#000" stroke="#000" stroke-width="0.25" style="opacity:0.999">
<text transform="translate(161.1 371.8) scale(1.0 1)" font-size="18" text-anchor="middle">50</text>
<text transform="translate(256.3 371.8) scale(1.0 1)" font-size="18" text-anchor="middle">100</text>
<text transform="translate(351.6 371.8) scale(1.0 1)" font-size="18" text-anchor="middle">150</text>
<text transform="translate(446.9 371.8) scale(1.0 1)" font-size="18" text-anchor="middle">200</text>
<text transform="translate(542.1 371.8) scale(1.0 1)" font-size="18" text-anchor="middle">250</text>
<text transform="translate(90.0 94.4) scale(1.0 1)" font-size="18" text-anchor="end">0.01</text>
<text transform="translate(90.0 294.9) scale(1.0 1)" font-size="18" text-anchor="end">0.001</text>
<text transform="translate(145.7 47.3) scale(1.0 1)" font-size="18" text-anchor="start">0 pc</text>
<text transform="translate(145.7 69.0) scale(1.0 1)" font-size="18" text-anchor="start">250 pc</text>
<text transform="translate(145.7 90.6) scale(1.0 1)" font-size="18" text-anchor="start">500 pc</text>
<text transform="translate(145.7 112.2) scale(1.0 1)" font-size="18" text-anchor="start">750 pc</text>
<text transform="translate(145.7 133.9) scale(1.0 1)" font-size="18" text-anchor="start">1000 pc</text>
<text transform="translate(145.7 155.6) scale(1.0 1)" font-size="18" text-anchor="start">1250 pc</text>
<text transform="translate(257.9 47.3) scale(1.0 1)" font-size="18" text-anchor="start">1500 pc</text>
<text transform="translate(257.9 69.0) scale(1.0 1)" font-size="18" text-anchor="start">1750 pc</text>
<text transform="translate(257.9 90.6) scale(1.0 1)" font-size="18" text-anchor="start">2000 pc</text>
<text transform="translate(30.9 184.5) rotate(-90)" font-size="20.5" text-anchor="middle">frequ.</text>
<text x="296.5" y="395.7" font-size="20.5">v<tspan font-size="14" dy="6.3">ϕ</tspan><tspan dy="-6.3">/kms</tspan><tspan font-size="12.5" dy="-8.5" dx="1.6">-1</tspan></text>
</g>
<path d="M124.4 41.5H132.8M128.6 37.3V45.7" stroke="#ff0000" stroke-width="1.05" fill="none"/>
<path d="M124.5 59.0L132.7 67.2M124.5 67.2L132.7 59.0" stroke="#00d800" stroke-width="1.05" fill="none"/>
<path d="M124.4 84.8H132.8M128.6 80.6V89.0M124.7 80.9L132.5 88.7M124.7 88.7L132.5 80.9" stroke="#0000ff" stroke-width="1.05" fill="none"/>
<rect x="124.5" y="102.3" width="8.2" height="8.2" stroke="#ff00ff" stroke-width="1.05" fill="none"/><circle cx="128.6" cy="106.4" r="0.7" fill="#ff00ff"/>
<rect x="124.7" y="124.2" width="7.8" height="7.8" fill="#00ffff"/>
<circle cx="128.6" cy="149.8" r="4.1" stroke="#e6b400" stroke-width="1.05" fill="none"/><circle cx="128.6" cy="149.8" r="0.7" fill="#e6b400"/>
<circle cx="240.8" cy="41.5" r="4.0" fill="#000000"/>
<path d="M240.8 59.1L244.7 65.2H236.9Z" stroke="#ff4d00" stroke-width="1.05" fill="none"/><circle cx="240.8" cy="63.1" r="0.7" fill="#ff4d00"/>
<path d="M240.8 80.2L245.2 87.3H236.4Z" fill="#808080"/>
</svg>
</body></html>
